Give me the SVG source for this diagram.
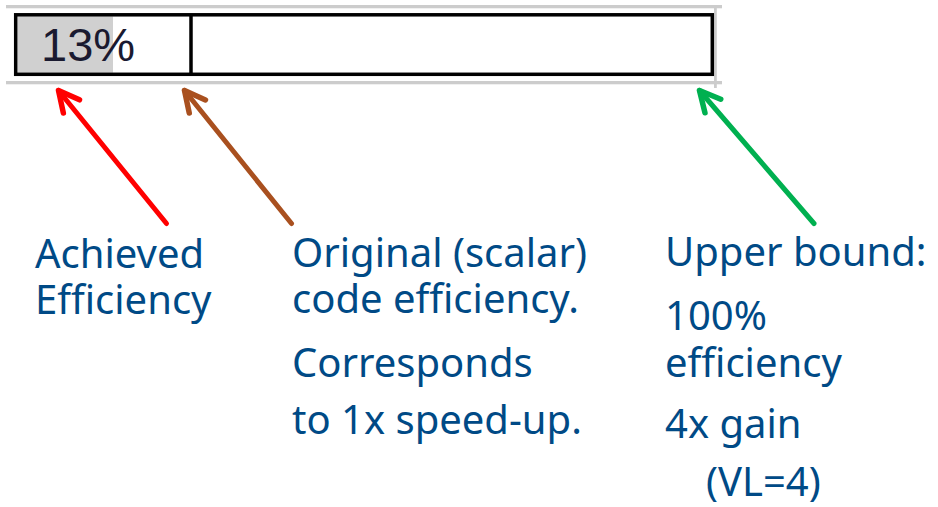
<svg xmlns="http://www.w3.org/2000/svg" width="938" height="507" viewBox="0 0 938 507">
  <style>
    .rule { fill: #cccccc; }
    .frame { fill: none; stroke: #000000; stroke-width: 3.5; }
    .label { font-family: "Noto Sans", "Open Sans", "DejaVu Sans", sans-serif; font-size: 40px; fill: #004A86; }
    .value { font-family: "Liberation Sans", Arial, sans-serif; font-size: 47px; fill: #1a1a30; }
    .arrow { fill: none; stroke-width: 5; stroke-linecap: round; stroke-linejoin: round; }
    .red { stroke: #FF0000; }
    .brown { stroke: #A9501F; }
    .green { stroke: #00B050; }
  </style>
  <defs>
    <marker id="headRed" markerUnits="userSpaceOnUse" markerWidth="40" markerHeight="40" viewBox="-30 -20 40 40" refX="0" refY="0" orient="auto" overflow="visible">
      <path d="M -20.5 -10.4 L 0 0 L -20.5 10.4" fill="none" stroke="#FF0000" stroke-width="5.5" stroke-linecap="round" stroke-linejoin="round"/>
    </marker>
    <marker id="headBrown" markerUnits="userSpaceOnUse" markerWidth="40" markerHeight="40" viewBox="-30 -20 40 40" refX="0" refY="0" orient="auto" overflow="visible">
      <path d="M -20.5 -10.4 L 0 0 L -20.5 10.4" fill="none" stroke="#A9501F" stroke-width="5.5" stroke-linecap="round" stroke-linejoin="round"/>
    </marker>
    <marker id="headGreen" markerUnits="userSpaceOnUse" markerWidth="40" markerHeight="40" viewBox="-30 -20 40 40" refX="0" refY="0" orient="auto" overflow="visible">
      <path d="M -20.5 -10.4 L 0 0 L -20.5 10.4" fill="none" stroke="#00B050" stroke-width="5.5" stroke-linecap="round" stroke-linejoin="round"/>
    </marker>
  </defs>

  <rect width="938" height="507" fill="#ffffff"/>

  <!-- efficiency bar cell -->
  <g id="efficiency-bar">
    <rect class="rule" x="6" y="5" width="716" height="3.3"/>
    <rect class="rule" x="6" y="81" width="716" height="3.3"/>
    <rect class="rule" x="714" y="8" width="2.8" height="80"/>
    <rect x="17.5" y="16.5" width="95.5" height="56.2" fill="#d0d0d0"/>
    <rect class="frame" x="15.7" y="14.8" width="696.6" height="59.5"/>
    <line x1="191" y1="14.8" x2="191" y2="74.3" stroke="#000000" stroke-width="3.5"/>
    <text class="value" x="41" y="61">13%</text>
  </g>

  <!-- pointers from the labels to the bar -->
  <g id="connectors">
    <line class="arrow red" x1="166.5" y1="223.5" x2="58.5" y2="90.5" marker-end="url(#headRed)"/>
    <line class="arrow brown" x1="291.5" y1="223.5" x2="184.5" y2="90.5" marker-end="url(#headBrown)"/>
    <line class="arrow green" x1="814" y1="223.5" x2="699.5" y2="90.5" marker-end="url(#headGreen)"/>
  </g>

  <g id="label-achieved">
    <text class="label" x="35" y="268">Achieved</text>
    <text class="label" x="35" y="314">Efficiency</text>
  </g>

  <g id="label-original">
    <text class="label" x="292" y="267">Original (scalar)</text>
    <text class="label" x="292" y="313">code efficiency.</text>
    <text class="label" x="292" y="377">Corresponds</text>
    <text class="label" x="292" y="434">to 1x speed-up.</text>
  </g>

  <g id="label-upper">
    <text class="label" x="665" y="266">Upper bound:</text>
    <text class="label" x="665" y="330">100%</text>
    <text class="label" x="665" y="377">efficiency</text>
    <text class="label" x="665" y="438">4x gain</text>
    <text class="label" x="706" y="496">(VL=4)</text>
  </g>
</svg>
